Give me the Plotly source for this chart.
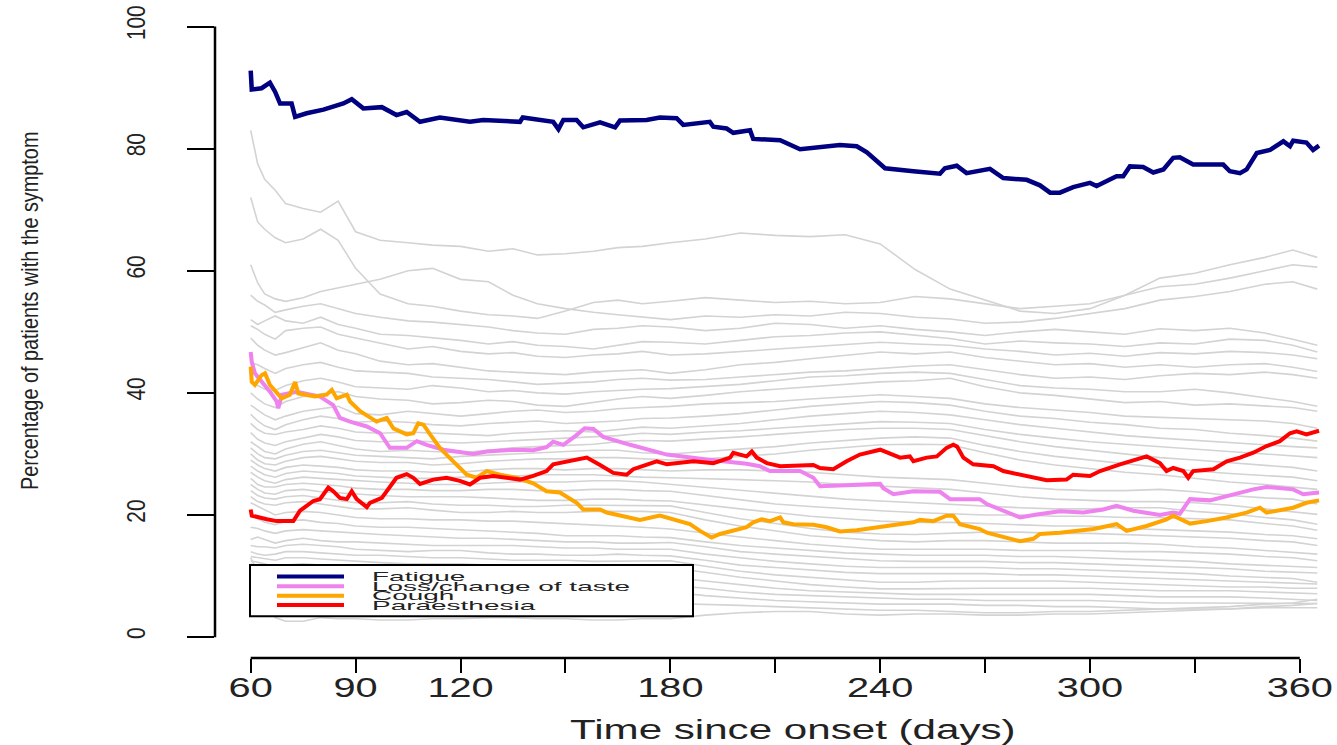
import plotly.graph_objects as go

# ---- highlighted symptoms: (day, % of patients) ----
fatigue_days = [60, 60.3, 63.1, 65.5, 67, 68.4, 71.7, 72.7, 76, 80.8, 86.5, 88.9, 92.2, 97.5, 101.7,
                104.6, 108.4, 114.1, 122.7, 126.5, 137, 137.8, 146.5, 148, 149.4, 153.2, 155.1, 159.9,
                164.2, 165.6, 173.2, 177, 181.8, 183.7, 191.3, 192.3, 196.1, 198, 202.8, 203.7, 211.4,
                215.2, 217.1, 228.5, 233.3, 236.2, 241.4, 249.5, 257.1, 258.5, 261.9, 264.7, 268.5,
                271.4, 275.2, 281.9, 285.7, 288.6, 291.4, 295.2, 300, 301.9, 307.6, 309.5, 311.4, 315.2,
                318.1, 321, 323.8, 325.7, 329.5, 338.1, 340, 342.9, 344.8, 347.7, 351.5, 355.3, 357.2,
                358.1, 361.9, 363.8, 365.5]
fatigue_pct = [92.8, 89.7, 89.9, 90.8, 89.3, 87.4, 87.4, 85.2, 85.8, 86.4, 87.4, 88.1, 86.6, 86.8, 85.5,
               86.0, 84.4, 85.1, 84.4, 84.7, 84.4, 85.1, 84.4, 83.2, 84.7, 84.7, 83.5, 84.3,
               83.5, 84.6, 84.7, 85.1, 85.0, 83.9, 84.4, 83.6, 83.3, 82.6, 83.0, 81.6, 81.4,
               80.4, 79.9, 80.6, 80.4, 79.4, 76.8, 76.3, 75.9, 76.8, 77.2, 76.0, 76.3,
               76.7, 75.2, 74.9, 74.0, 72.8, 72.8, 73.7, 74.4, 73.9, 75.5, 75.5, 77.1, 77.0,
               76.1, 76.6, 78.5, 78.6, 77.4, 77.4, 76.3, 76.0, 76.6, 79.3, 79.8, 81.2, 80.4,
               81.3, 81.0, 79.8, 80.5]

taste_days = [60, 60.3, 61.2, 64.1, 65.5, 67.4, 67.9, 68.9, 73.2, 79.8, 83.6, 85.5, 88.4, 93.2, 97,
              99.8, 104.6, 107.5, 110.3, 115.1, 123.7, 127.5, 135.1, 140.8, 144.6, 146.5, 149.4, 153,
              155.5, 158, 160.8, 168.5, 179, 190.4, 201.8, 205.6, 208.5, 217.1, 220.9, 222.8, 230.4,
              240, 240.9, 243.8, 249.5, 257.1, 260, 268.5, 270.5, 276.2, 280, 284.8, 291.4, 298.1,
              303.8, 307.6, 312.4, 320, 323.8, 325.7, 328.6, 334.3, 339, 346.7, 350.5, 358.1, 361,
              365.5]
taste_pct = [46.7, 45.1, 43.2, 41.3, 40.2, 38.6, 37.5, 39.7, 40.2, 39.4, 38.0, 35.9, 35.3, 34.5, 33.4,
             31.0, 31.0, 32.1, 31.5, 30.7, 30.0, 30.4, 30.7, 30.6, 31.1, 32.0, 31.5, 33.0,
             34.2, 34.1, 32.8, 31.5, 29.9, 29.1, 28.4, 28.0, 27.2, 27.2, 26.1, 24.7, 24.9,
             25.1, 24.4, 23.4, 23.9, 23.8, 22.6, 22.6, 21.8, 20.4, 19.6, 20.1, 20.6, 20.4,
             20.9, 21.5, 20.7, 20.0, 20.4, 20.2, 22.6, 22.4, 23.1, 24.2, 24.6, 24.2, 23.4,
             23.7]

cough_days = [60, 60.3, 61.2, 63.1, 64.1, 65.5, 68.9, 71.2, 72.7, 73.6, 78.4, 81.7, 83.2, 84.6, 87.5,
              88.4, 91.3, 96, 98.9, 100.8, 104.6, 106.5, 107.9, 109.4, 111.3, 114.1, 117.9, 121.8,
              124.6, 127.5, 131.3, 136.1, 140.8, 144.6, 148.4, 153.2, 155.1, 159.9, 161.8, 165.6,
              171.3, 177, 180.8, 185.6, 188.5, 191.8, 194.2, 198, 201.8, 203.7, 206.1, 208.5, 211.4,
              212.3, 215.2, 220.9, 224.7, 228.5, 233.3, 241.9, 249.5, 251.4, 255.2, 259, 260.9,
              262.8, 268.5, 270.5, 276.2, 280, 283.8, 285.7, 291.4, 301, 307.6, 310.5, 316.2, 321.9,
              323.8, 328.6, 333.4, 339, 344.8, 348.6, 350.5, 358.1, 361.9, 365.5]
cough_pct = [44.3, 41.8, 41.3, 42.9, 43.2, 41.3, 39.1, 39.7, 41.8, 39.9, 39.4, 39.7, 40.5, 39.1, 39.7,
             38.6, 37.0, 35.3, 35.9, 34.2, 33.2, 33.4, 35.0, 34.8, 33.2, 31.0, 28.8, 26.6,
             26.1, 27.2, 26.6, 26.1, 25.2, 23.9, 23.7, 22.0, 20.9, 20.9, 20.4, 19.9,
             19.2, 19.9, 19.3, 18.5, 17.4, 16.3, 16.9, 17.4, 18.0, 18.8, 19.3, 19.0, 19.6,
             18.8, 18.5, 18.4, 18.0, 17.3, 17.5, 18.2, 18.8, 19.2, 19.0, 19.9, 19.9,
             18.5, 17.7, 17.1, 16.3, 15.7, 16.1, 16.9, 17.1, 17.7, 18.5, 17.4, 18.2, 19.3,
             19.9, 18.6, 19.0, 19.6, 20.4, 21.2, 20.4, 21.2, 22.0, 22.4]

par_days = [60, 60.3, 64.6, 67.4, 72.2, 74.1, 77.9, 79.8, 82.2, 83.6, 85.5, 87.5, 88.9, 90.3, 93.2,
            94.1, 97.5, 99.8, 101.7, 104.6, 106.5, 108.4, 112.2, 116, 119.8, 122.7, 125.6, 129.4,
            137, 140.8, 144.6, 146.5, 150.4, 153.2, 156.1, 159.9, 163.7, 167.5, 169.4, 176.1, 179,
            186.6, 192.3, 197.1, 198, 201.8, 203.3, 204.7, 207.6, 211.4, 220.9, 222.8, 226.6, 230.4,
            234.2, 240, 245.7, 248.5, 249.5, 253.3, 256.2, 259, 260.9, 262, 263.8, 266.6, 272.4,
            275.2, 281.9, 287.6, 293.3, 295.2, 300, 302.9, 308.6, 314.3, 316.2, 320, 321.9, 323.8,
            326.7, 328.1, 329.5, 335.3, 339.1, 342.9, 346.7, 350.5, 354.3, 357.2, 359.1, 361.9,
            365.5]
par_pct = [20.9, 19.9, 19.3, 19.0, 19.0, 20.7, 22.3, 22.6, 24.5, 23.9, 22.8, 22.6, 23.9, 22.6, 21.3,
           22.0, 22.8, 24.7, 26.1, 26.7, 26.1, 25.1, 25.8, 26.1, 25.6, 25.0, 26.1, 26.4,
           25.8, 26.4, 27.2, 28.3, 28.8, 29.1, 29.4, 28.2, 26.9, 26.6, 27.5, 28.8, 28.3,
           28.8, 28.5, 29.4, 30.2, 29.6, 30.4, 29.4, 28.5, 28.0, 28.2, 27.7, 27.5, 28.8,
           29.9, 30.7, 29.4, 29.6, 28.8, 29.4, 29.6, 31.0, 31.5, 31.2, 29.4, 28.3, 28.0,
           27.2, 26.4, 25.7, 25.8, 26.6, 26.4, 27.2, 28.3, 29.4, 29.6, 28.5, 27.2, 27.7,
           27.2, 26.1, 27.2, 27.5, 28.8, 29.4, 30.2, 31.3, 32.1, 33.4, 33.7, 33.2,
           33.8]

# ---- remaining symptoms, sampled on a common day grid ----
grid_days = [60, 62, 64, 67, 70, 75, 80, 85, 90, 97, 105, 112, 120, 128, 135, 142, 150, 158, 165, 172,
             180, 190, 200, 210, 220, 230, 240, 250, 260, 270, 280, 290, 300, 310, 320, 330, 340, 350, 358, 365]

other_01 = [83.0, 77.5, 75.0, 73.2, 71.0, 70.2, 69.6, 71.4, 66.4, 65.0, 64.6, 64.2, 64.0, 63.2, 63.6, 62.6, 62.8, 63.2, 63.8, 64.0,
            64.6, 65.2, 66.2, 65.8, 65.6, 65.9, 64.4, 60.2, 57.0, 55.2, 53.4, 53.0, 53.8, 56.0, 58.8, 59.6, 61.0, 62.2, 63.4, 62.2]
other_02 = [72.0, 68.0, 66.8, 65.4, 64.6, 65.2, 66.8, 65.0, 60.4, 56.2, 54.6, 54.2, 53.4, 52.8, 52.6, 52.2, 53.4, 54.8, 55.2, 54.6,
            55.0, 55.6, 55.2, 54.8, 55.0, 54.6, 54.8, 55.8, 55.4, 54.6, 53.8, 54.2, 54.6, 56.0, 57.4, 57.8, 58.8, 60.0, 61.0, 60.6]
other_03 = [61.0, 58.0, 56.2, 55.4, 55.0, 55.6, 56.6, 57.2, 57.8, 58.6, 60.0, 60.4, 58.6, 58.2, 56.0, 54.6, 53.8, 53.2, 52.8, 52.4,
            52.0, 52.6, 52.4, 52.8, 52.6, 53.2, 53.0, 52.4, 52.1, 51.4, 51.6, 52.2, 53.0, 53.8, 55.2, 55.8, 56.6, 57.8, 58.2, 57.0]
other_04 = [56.0, 55.0, 54.4, 53.2, 53.6, 54.2, 54.6, 53.8, 53.0, 52.4, 51.8, 51.6, 51.2, 50.8, 50.2, 49.8, 49.6, 50.4, 50.6, 51.0,
            50.8, 50.2, 50.6, 51.4, 51.2, 50.6, 51.0, 50.4, 50.0, 49.4, 50.0, 50.4, 50.0, 49.6, 50.5, 50.2, 50.6, 49.8, 48.8, 47.8]
other_05 = [52.0, 51.2, 51.8, 52.6, 51.8, 51.4, 52.4, 51.2, 50.6, 49.6, 49.4, 49.0, 48.6, 48.0, 48.4, 47.8, 47.6, 47.2, 47.8, 48.4,
            48.3, 48.0, 48.6, 49.2, 49.4, 49.8, 50.0, 49.4, 48.9, 48.0, 48.5, 48.2, 48.0, 47.6, 48.2, 48.0, 48.8, 48.6, 47.8, 46.7]
other_06 = [51.0, 50.4, 49.6, 48.8, 50.2, 50.6, 50.8, 49.6, 49.0, 48.2, 47.2, 47.6, 46.8, 46.4, 46.6, 46.0, 45.8, 46.2, 46.4, 46.8,
            46.2, 46.4, 46.8, 47.2, 47.6, 48.0, 48.3, 48.0, 47.8, 47.2, 46.8, 46.2, 46.5, 46.0, 46.6, 46.4, 46.8, 46.6, 46.2, 45.6]
other_07 = [49.0, 47.8, 47.0, 46.2, 46.6, 47.4, 48.2, 47.0, 46.4, 45.2, 44.6, 44.8, 44.2, 43.6, 43.4, 43.2, 43.0, 43.4, 43.6, 43.8,
            43.2, 43.8, 44.6, 45.0, 45.6, 46.2, 46.7, 46.4, 46.7, 45.8, 45.2, 44.6, 44.8, 44.2, 44.6, 44.2, 44.6, 44.8, 44.2, 43.5]
other_08 = [45.0, 44.6, 44.0, 43.2, 44.0, 44.6, 45.0, 44.2, 43.6, 43.4, 43.2, 42.6, 42.4, 42.2, 41.8, 41.4, 41.6, 41.8, 42.2, 42.4,
            42.1, 42.2, 42.6, 43.0, 43.4, 43.6, 44.0, 44.4, 44.6, 43.8, 43.0, 42.4, 42.6, 42.2, 42.8, 43.2, 43.0, 43.4, 43.0, 42.4]
other_09 = [42.0, 41.2, 40.6, 40.4, 41.2, 42.0, 42.4, 41.8, 41.0, 40.8, 40.6, 41.2, 40.8, 40.2, 40.4, 40.0, 39.8, 40.2, 40.4, 40.6,
            40.7, 41.0, 41.4, 42.0, 42.6, 42.8, 43.2, 43.4, 43.2, 42.2, 41.2, 40.8, 40.6, 40.2, 40.2, 40.6, 40.0, 39.2, 38.6, 37.8]
other_10 = [40.0, 39.0, 38.2, 37.6, 38.6, 39.4, 39.8, 40.2, 39.4, 39.0, 38.8, 38.2, 38.4, 38.8, 38.6, 38.0, 37.8, 38.4, 39.0, 39.4,
            39.1, 39.6, 40.2, 40.6, 41.0, 41.4, 41.8, 42.0, 42.4, 41.0, 40.0, 39.6, 39.0, 38.4, 38.6, 38.0, 38.2, 37.8, 37.6, 37.0]
other_11 = [38.0, 37.2, 36.4, 35.6, 36.2, 37.0, 37.4, 37.8, 36.6, 36.4, 37.0, 36.6, 36.2, 36.6, 37.0, 37.2, 36.8, 37.0, 37.4, 37.6,
            37.8, 38.2, 38.4, 38.6, 39.0, 39.4, 39.7, 39.4, 39.1, 38.2, 37.6, 37.2, 36.8, 36.2, 36.0, 35.8, 35.6, 35.4, 35.0, 34.2]
other_12 = [36.5, 35.4, 34.6, 34.0, 34.8, 35.6, 36.2, 35.8, 35.2, 35.4, 35.2, 34.8, 34.6, 35.0, 35.2, 35.4, 35.0, 35.2, 35.4, 35.8,
            35.9, 36.2, 36.6, 37.2, 37.8, 38.2, 38.6, 38.4, 38.0, 37.0, 36.2, 35.8, 35.2, 34.8, 34.2, 34.0, 33.4, 33.0, 32.6, 32.1]
other_13 = [35.0, 34.0, 33.4, 33.2, 33.6, 34.0, 34.6, 34.2, 33.6, 33.4, 33.6, 33.4, 33.2, 33.0, 33.4, 33.6, 33.8, 33.6, 34.0, 34.4,
            34.2, 34.6, 35.0, 35.6, 36.2, 36.6, 37.0, 36.8, 36.4, 35.6, 34.8, 34.2, 33.6, 33.0, 32.6, 32.2, 31.8, 31.4, 31.2, 31.0]
other_14 = [33.5, 32.4, 31.8, 31.4, 32.0, 32.6, 33.2, 32.8, 32.2, 32.0, 32.2, 32.0, 31.8, 32.0, 32.2, 32.4, 32.6, 32.8, 33.0, 33.4,
            33.2, 33.6, 33.8, 34.2, 34.6, 35.0, 35.3, 35.2, 35.0, 34.0, 33.2, 32.6, 32.0, 31.6, 31.2, 30.8, 30.4, 30.0, 29.8, 29.4]
other_15 = [32.0, 31.2, 30.4, 30.0, 30.8, 31.6, 32.0, 31.4, 30.8, 30.4, 30.6, 30.4, 30.2, 30.6, 31.0, 31.2, 31.4, 31.6, 32.0, 32.2,
            32.1, 32.4, 32.8, 33.2, 33.6, 34.0, 34.2, 34.2, 34.0, 33.0, 32.0, 31.2, 30.6, 30.0, 29.4, 29.0, 28.6, 28.2, 27.8, 27.2]
other_16 = [31.0, 30.0, 29.4, 29.2, 29.8, 30.4, 30.6, 30.2, 29.8, 29.6, 29.4, 29.2, 29.6, 29.8, 30.0, 30.2, 30.4, 30.6, 30.6, 30.2,
            30.0, 30.4, 30.8, 31.2, 31.8, 32.2, 32.6, 32.8, 32.6, 31.4, 30.4, 29.6, 29.0, 28.4, 27.8, 27.2, 26.8, 26.4, 26.2, 25.6]
other_17 = [30.0, 29.0, 28.4, 28.2, 28.8, 29.4, 29.6, 29.2, 28.8, 28.6, 28.6, 28.2, 28.4, 28.8, 29.0, 29.2, 29.2, 29.4, 29.4, 29.2,
            29.0, 29.2, 29.6, 30.0, 30.6, 31.0, 31.5, 31.6, 31.5, 30.2, 29.0, 28.2, 27.6, 27.0, 26.6, 26.0, 25.4, 25.0, 24.6, 24.2]
other_18 = [29.0, 28.2, 27.6, 27.2, 27.8, 28.2, 28.0, 27.8, 27.4, 27.2, 27.2, 27.0, 27.0, 27.4, 27.6, 27.6, 27.4, 27.6, 27.6, 27.4,
            27.2, 27.4, 27.4, 27.2, 27.0, 26.6, 26.2, 26.0, 25.8, 25.2, 24.6, 24.2, 24.0, 24.0, 24.2, 23.8, 23.2, 22.8, 22.6, 21.8]
other_19 = [28.0, 27.2, 26.6, 26.2, 26.8, 27.2, 27.0, 26.8, 26.4, 26.2, 26.0, 26.0, 26.2, 26.4, 26.4, 26.6, 26.6, 26.6, 26.4, 26.2,
            26.1, 26.0, 25.8, 25.6, 25.4, 25.0, 24.7, 24.4, 24.2, 23.6, 23.0, 22.6, 22.4, 22.2, 22.2, 22.0, 21.6, 21.0, 20.6, 20.1]
other_20 = [27.0, 26.2, 25.6, 25.2, 25.8, 26.2, 26.0, 25.8, 25.6, 25.4, 25.2, 25.0, 25.0, 25.2, 25.4, 25.4, 25.4, 25.6, 25.6, 25.4,
            25.0, 24.6, 24.0, 23.6, 23.0, 22.6, 22.3, 22.0, 21.8, 21.4, 21.2, 21.0, 21.0, 21.2, 21.2, 20.6, 20.2, 19.6, 19.2, 18.5]
other_21 = [26.0, 25.0, 24.6, 24.6, 25.0, 25.2, 25.0, 24.8, 24.4, 24.2, 24.2, 24.0, 24.0, 24.2, 24.2, 24.0, 24.0, 24.2, 24.2, 24.0,
            23.9, 23.2, 22.4, 21.8, 21.4, 21.0, 20.7, 20.4, 20.2, 20.0, 20.0, 19.8, 19.8, 19.6, 19.6, 19.4, 19.2, 18.6, 18.2, 17.5]
other_22 = [25.0, 24.2, 23.6, 23.4, 24.0, 24.2, 23.8, 23.6, 23.4, 23.2, 23.0, 23.0, 23.0, 22.8, 22.6, 22.4, 22.4, 22.6, 22.6, 22.4,
            22.3, 21.6, 21.0, 20.4, 19.8, 19.4, 19.0, 18.8, 18.8, 18.6, 18.4, 18.2, 18.2, 17.8, 17.6, 17.4, 17.2, 16.8, 16.6, 16.1]
other_23 = [24.0, 23.2, 22.8, 22.6, 23.0, 23.2, 22.8, 22.4, 22.0, 22.0, 22.2, 21.8, 21.6, 21.6, 21.4, 21.4, 21.6, 21.6, 21.6, 21.6,
            21.5, 20.4, 19.4, 18.6, 17.8, 17.2, 16.9, 16.8, 17.0, 17.2, 17.2, 17.0, 17.0, 16.8, 16.6, 16.4, 16.2, 15.8, 15.6, 15.0]
other_24 = [23.0, 22.2, 21.8, 21.6, 22.0, 22.2, 21.8, 21.4, 21.0, 21.0, 21.2, 20.8, 20.4, 20.4, 20.6, 20.4, 20.4, 20.6, 20.6, 20.6,
            20.4, 19.2, 18.2, 17.4, 16.6, 16.2, 15.8, 15.6, 15.8, 15.8, 15.6, 15.4, 15.4, 15.4, 15.2, 14.8, 14.6, 14.2, 14.0, 13.6]
other_25 = [22.0, 21.4, 20.8, 20.0, 20.4, 20.6, 20.4, 20.0, 19.6, 19.4, 19.4, 19.2, 19.2, 19.0, 19.0, 18.8, 18.6, 18.4, 18.2, 18.0,
            17.7, 17.0, 16.4, 15.8, 15.2, 14.8, 14.4, 14.4, 14.4, 14.4, 14.2, 14.2, 14.2, 14.0, 14.0, 13.8, 13.6, 13.2, 13.0, 12.5]
other_26 = [20.0, 19.4, 18.8, 18.4, 19.0, 19.2, 18.8, 18.6, 18.2, 18.0, 18.0, 17.8, 17.6, 17.4, 17.2, 17.0, 16.6, 16.6, 16.6, 16.4,
            16.3, 15.6, 15.0, 14.6, 14.2, 13.8, 13.6, 13.4, 13.4, 13.4, 13.2, 13.2, 13.0, 12.8, 12.6, 12.4, 12.0, 11.8, 11.6, 11.4]
other_27 = [18.0, 17.8, 17.4, 17.0, 17.4, 17.6, 17.4, 17.2, 17.0, 16.8, 16.6, 16.4, 16.2, 16.2, 16.0, 15.8, 15.6, 15.6, 15.4, 15.4,
            15.5, 14.8, 14.0, 13.6, 13.2, 12.8, 12.5, 12.4, 12.4, 12.4, 12.2, 12.2, 12.0, 11.8, 11.6, 11.4, 11.2, 10.8, 10.6, 10.5]
other_28 = [16.0, 16.4, 16.0, 15.4, 15.8, 16.2, 15.8, 15.6, 15.6, 15.4, 15.2, 15.0, 15.0, 15.0, 15.0, 14.8, 14.6, 14.6, 14.4, 14.4,
            14.4, 13.6, 13.0, 12.4, 12.0, 11.6, 11.4, 11.4, 11.4, 11.4, 11.2, 11.2, 11.0, 10.8, 10.6, 10.4, 10.0, 9.8, 9.6, 9.0]
other_29 = [15.0, 14.8, 14.8, 14.6, 15.0, 15.2, 15.0, 14.8, 14.4, 14.2, 14.0, 14.2, 14.2, 13.8, 13.6, 13.6, 13.4, 13.4, 13.6, 13.4,
            13.3, 12.6, 11.8, 11.4, 11.0, 10.6, 10.4, 10.4, 10.4, 10.4, 10.2, 10.2, 10.0, 9.8, 9.6, 9.4, 9.2, 9.0, 8.8, 8.7]
other_30 = [14.0, 13.6, 13.4, 13.6, 14.0, 14.0, 13.8, 13.6, 13.4, 13.4, 13.2, 13.0, 13.0, 12.8, 12.6, 12.6, 12.6, 12.4, 12.4, 12.4,
            12.5, 11.6, 10.8, 10.2, 9.8, 9.4, 9.0, 9.0, 9.2, 9.2, 9.2, 9.2, 9.0, 8.8, 8.6, 8.4, 8.2, 8.2, 8.0, 8.0]
other_31 = [13.2, 13.0, 12.8, 12.6, 13.0, 13.0, 12.8, 12.6, 12.4, 12.2, 12.0, 12.0, 12.0, 11.8, 11.6, 11.4, 11.4, 11.4, 11.6, 11.4,
            11.4, 10.6, 9.8, 9.2, 8.6, 8.2, 7.9, 7.9, 8.0, 8.0, 8.0, 8.0, 8.0, 7.8, 7.6, 7.6, 7.6, 7.4, 7.2, 7.1]
other_32 = [12.5, 12.2, 12.0, 11.4, 11.8, 12.0, 11.8, 11.4, 11.0, 10.8, 10.6, 10.6, 10.6, 10.4, 10.2, 10.0, 10.0, 10.0, 10.0, 9.8,
            9.8, 9.2, 8.6, 8.0, 7.6, 7.4, 7.1, 7.0, 7.0, 7.0, 7.0, 7.0, 7.0, 6.8, 6.6, 6.6, 6.6, 6.4, 6.2, 6.0]
other_33 = [12.0, 11.4, 11.0, 10.2, 10.0, 10.0, 10.2, 9.8, 9.6, 9.4, 9.2, 9.0, 9.0, 8.8, 8.6, 8.6, 8.6, 8.4, 8.4, 8.4,
            8.5, 8.0, 7.4, 7.0, 6.8, 6.6, 6.3, 6.2, 6.2, 6.0, 6.0, 6.0, 6.0, 5.8, 5.6, 5.6, 5.6, 5.6, 5.6, 5.5]
other_34 = [11.0, 10.4, 10.0, 9.2, 8.6, 8.4, 8.2, 7.8, 7.6, 7.6, 7.6, 7.4, 7.4, 7.6, 7.6, 7.4, 7.4, 7.6, 7.6, 7.4,
            7.4, 6.8, 6.4, 6.0, 5.8, 5.6, 5.4, 5.4, 5.4, 5.2, 5.2, 5.0, 5.0, 4.8, 4.6, 4.6, 4.6, 4.8, 4.8, 4.8]
other_35 = [10.0, 7.4, 6.0, 3.2, 2.6, 2.6, 3.2, 3.0, 3.0, 2.8, 2.8, 3.0, 3.0, 3.2, 3.2, 3.0, 3.0, 2.8, 2.8, 3.0,
            3.0, 3.6, 4.0, 4.2, 4.2, 3.8, 3.6, 3.8, 3.8, 3.6, 3.6, 3.8, 3.8, 4.0, 4.2, 4.4, 4.6, 5.0, 5.2, 5.5]
other_36 = [13.0, 10.6, 9.0, 5.4, 4.4, 4.2, 5.0, 5.0, 5.2, 5.0, 5.0, 5.2, 5.4, 5.6, 5.6, 5.4, 5.4, 5.6, 5.6, 5.4,
            5.5, 5.4, 5.2, 5.0, 4.8, 4.6, 4.4, 4.4, 4.2, 4.0, 4.0, 4.2, 4.2, 4.4, 4.6, 4.8, 5.0, 5.4, 5.6, 6.2]

other_symptoms = [other_01, other_02, other_03, other_04, other_05, other_06, other_07, other_08,
                  other_09, other_10, other_11, other_12, other_13, other_14, other_15, other_16,
                  other_17, other_18, other_19, other_20, other_21, other_22, other_23, other_24,
                  other_25, other_26, other_27, other_28, other_29, other_30, other_31, other_32,
                  other_33, other_34, other_35, other_36]

x_ticks = [60, 90, 120, 150, 180, 210, 240, 270, 300, 330, 360]
x_tick_text = ["60", "90", "120", "", "180", "", "240", "", "300", "", "360"]
y_ticks = [0, 20, 40, 60, 80, 100]

highlighted = [
    ("Fatigue", fatigue_days, fatigue_pct, "#000080", 4.5),
    ("Loss/change of taste", taste_days, taste_pct, "#EE82EE", 4),
    ("Cough", cough_days, cough_pct, "#FFA500", 4),
    ("Paraesthesia", par_days, par_pct, "#FF0000", 4),
]

fig = go.Figure()

for vals in other_symptoms:
    fig.add_trace(go.Scatter(x=grid_days, y=vals, mode="lines",
                             line=dict(color="#D3D3D3", width=1.6),
                             hoverinfo="skip", showlegend=False))

for name, d, v, col, lw in highlighted:
    fig.add_trace(go.Scatter(x=d, y=v, mode="lines", name=name,
                             line=dict(color=col, width=lw), showlegend=False))

# plot region: left edge 215px, bottom edge 658px
L, R, T, B = 215, 10, 1, 87
W, H = 1337, 745
pw, ph = W - L - R, H - T - B


def px_x(px):
    return (px - L) / pw


def px_y(py):
    return (H - B - py) / ph


shapes = [
    # R-style axis lines spanning only the tick range
    dict(type="line", xref="x", yref="paper", x0=60, x1=360, y0=0, y1=0,
         line=dict(color="black", width=2.5)),
    dict(type="line", xref="paper", yref="y", x0=0, x1=0, y0=0, y1=100,
         line=dict(color="black", width=2.5)),
    # legend frame
    dict(type="rect", xref="paper", yref="paper", layer="above",
         x0=px_x(250), x1=px_x(693), y0=px_y(616), y1=px_y(564.5),
         fillcolor="white", line=dict(color="black", width=2)),
]

legend_rows = [576, 585.7, 595.3, 604.7]
annotations = []
for (name, d, v, col, lw), row in zip(highlighted, legend_rows):
    shapes.append(dict(type="line", xref="paper", yref="paper", layer="above",
                       x0=px_x(277), x1=px_x(344), y0=px_y(row), y1=px_y(row),
                       line=dict(color=col, width=4)))
    annotations.append(dict(text=name, xref="paper", yref="paper",
                            x=px_x(370), y=px_y(row), xanchor="left", yanchor="middle",
                            align="left", showarrow=False,
                            font=dict(family="Liberation Sans, Arial", size=13, color="#222222")))

annotations.append(dict(text="Time since onset (days)", xref="paper", yref="paper",
                        x=px_x(793), y=px_y(748), xanchor="center", yanchor="bottom",
                        showarrow=False,
                        font=dict(family="Liberation Sans, Arial", size=27, color="#222222")))
annotations.append(dict(text="Percentage of patients with the symptom", xref="paper", yref="paper",
                        x=px_x(29), y=px_y(309), xanchor="center", yanchor="middle",
                        textangle=-90, showarrow=False,
                        font=dict(family="Liberation Sans, Arial", size=24.5, color="#222222")))

fig.update_layout(
    width=W, height=H,
    margin=dict(l=L, r=R, t=T, b=B, pad=0),
    paper_bgcolor="white", plot_bgcolor="white",
    shapes=shapes, annotations=annotations,
    showlegend=False,
    xaxis=dict(range=[60 - 35.7 / 3.497, 60 - 35.7 / 3.497 + pw / 3.497],
               tickvals=x_ticks, ticktext=x_tick_text,
               ticks="outside", ticklen=14, tickwidth=2, tickcolor="black",
               showline=False, showgrid=False, zeroline=False,
               ticklabelstandoff=-10,
               tickfont=dict(family="Liberation Sans, Arial", size=28, color="#222222")),
    yaxis=dict(range=[-(658 - 637) / 6.143, -(658 - 637) / 6.143 + ph / 6.143],
               tickvals=y_ticks, ticks="outside", ticklen=27, tickwidth=2, tickcolor="black",
               tickangle=-90, ticklabeloverflow="allow",
               showline=False, showgrid=False, zeroline=False,
               ticklabelstandoff=32,
               tickfont=dict(family="Liberation Sans, Arial", size=26, color="#222222")),
)

# reshape lettering to the proportions of the original figure:
# horizontal text is drawn broad, vertical text is drawn condensed
post_js = """
var gd = document.getElementById('{plot_id}');
var scaleByText = {'Time since onset (days)': 1.56, 'Fatigue': 2.15, 'Loss/change of taste': 2.15,
                   'Cough': 2.15, 'Paraesthesia': 2.15,
                   'Percentage of patients with the symptom': 0.81};
function fit(el, f) {
  el.removeAttribute('textLength');
  el.removeAttribute('lengthAdjust');
  var w = el.getComputedTextLength();
  if (w > 0) {
    el.setAttribute('textLength', (w * f).toFixed(1));
    el.setAttribute('lengthAdjust', 'spacingAndGlyphs');
  }
}
function reshapeText() {
  gd.querySelectorAll('.xtick text').forEach(function (el) { fit(el, 1.42); });
  gd.querySelectorAll('.ytick text').forEach(function (el) { fit(el, 0.8); });
  gd.querySelectorAll('.annotation-text').forEach(function (el) {
    var f = scaleByText[el.textContent];
    if (f) { fit(el, f); }
  });
}
reshapeText();
gd.on('plotly_afterplot', reshapeText);
"""

fig.write_html("out.html", post_script=post_js, config={"displayModeBar": False})
